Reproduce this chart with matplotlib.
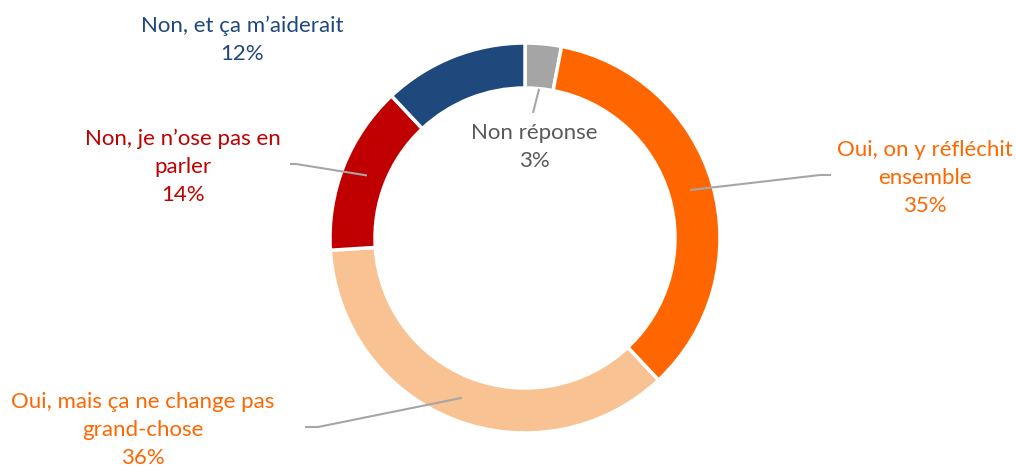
import numpy as np
import matplotlib
matplotlib.use("Agg")
import matplotlib.pyplot as plt

# answer categories, clockwise from 12 o'clock
labels = ["Non réponse", "Oui, on y réfléchit\nensemble", "Oui, mais ça ne change pas\ngrand-chose",
          "Non, je n’ose pas en\nparler", "Non, et ça m’aiderait"]
values = [3, 35, 36, 14, 12]
colors = ["#A5A5A5", "#FF6600", "#F9C293", "#C00000", "#1F497D"]
text_colors = ["#595959", "#FF6600", "#FF6600", "#C00000", "#1F497D"]

# label block centres (pixels), leader knee / end points (None = no leader)
label_pos = [(534, 147), (925, 178), (143, 430), (183, 167), (242, 40)]
leader_knee = [None, (820, 175), (318, 427), (296, 164), None]
leader_end = [(533, 113), (831, 175), (305, 427), (290, 164), None]
leader_r = [150, 172, 172, 170, None]

W, H = 1016, 468
cx, cy = 525, 238
r_out, ring = 195, 45

plt.rcParams["font.family"] = ["Lato", "DejaVu Sans"]

fig = plt.figure(figsize=(W / 100, H / 100), dpi=100)
ax = fig.add_axes([0, 0, 1, 1])

def py(y):
    return H - y

wedges, _ = ax.pie(values, colors=colors, startangle=90, counterclock=False,
                   radius=r_out, center=(cx, py(cy)), frame=True,
                   wedgeprops=dict(width=ring, edgecolor="white", linewidth=2.5))
ax.set_xlim(0, W)
ax.set_ylim(0, H)
ax.set_aspect("equal")
ax.axis("off")

for i, w in enumerate(wedges):
    lx, ly = label_pos[i]
    ax.text(lx, py(ly), f"{labels[i]}\n{values[i]}%", ha="center", va="center",
            color=text_colors[i], fontsize=16, linespacing=1.48)
    if leader_end[i] is None:
        continue
    mid = np.deg2rad((w.theta1 + w.theta2) / 2)
    sx = cx + leader_r[i] * np.cos(mid)
    sy = py(cy) + leader_r[i] * np.sin(mid)
    xs, ys = [sx], [sy]
    if leader_knee[i] is not None:
        xs.append(leader_knee[i][0])
        ys.append(py(leader_knee[i][1]))
    xs.append(leader_end[i][0])
    ys.append(py(leader_end[i][1]))
    ax.plot(xs, ys, color="#A6A6A6", linewidth=1.5, solid_capstyle="butt")

fig.savefig("out.png", dpi=100)
